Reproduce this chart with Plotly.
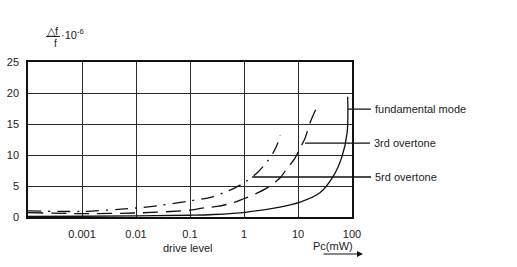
import numpy as np
import plotly.graph_objects as go

# ---- data (Pc in mW, Δf/f in 1e-6) ----
fund_x = [0.0001, 0.001, 0.01, 0.1, 0.27, 1.14, 4.6, 10.9, 25.5, 44.5, 65, 81, 84, 83]
fund_y = [0.1, 0.12, 0.18, 0.28, 0.4, 0.8, 1.6, 2.4, 3.9, 6.5, 9.7, 13.5, 17.5, 19.4]

ot3_x = [0.0001, 0.001, 0.01, 0.1, 0.19, 0.32, 0.63, 0.96, 1.6, 2.67, 4.64, 6.0, 8.8, 10.9, 13.5, 16.7, 21.5]
ot3_y = [0.7, 0.55, 0.65, 1.1, 1.5, 1.7, 2.3, 2.9, 3.7, 4.7, 6.3, 7.6, 9.5, 11.1, 12.7, 15.2, 17.4]

ot5_x = [0.0001, 0.001, 0.01, 0.03, 0.1, 0.25, 0.41, 0.68, 1.04, 1.74, 2.67, 3.44, 4.08, 4.64]
ot5_y = [1.0, 0.9, 1.45, 1.9, 2.6, 3.2, 3.9, 4.7, 5.6, 7.1, 8.9, 10.3, 11.6, 13.2]

x_tickvals = [0.001, 0.01, 0.1, 1, 10, 100]
x_ticktext = ["0.001", "0.01", "0.1", "1", "10", "100"]
y_tickvals = [0, 5, 10, 15, 20, 25]

labels = ["fundamental mode", "3rd overtone", "5rd overtone"]
label_pts = [(84, 17.4), (13.5, 11.9), (1.41, 6.45)]
label_ax = [23, 65, 119]

FONT = "Liberation Sans, Arial, sans-serif"
TXT = "#222222"

fig = go.Figure()
fig.add_trace(go.Scatter(x=fund_x, y=fund_y, mode="lines",
                         line=dict(color="#111", width=1.3, shape="spline", smoothing=1.0)))
fig.add_trace(go.Scatter(x=ot3_x, y=ot3_y, mode="lines",
                         line=dict(color="#111", width=1.3, dash="15px,8px", shape="spline", smoothing=0.8)))
fig.add_trace(go.Scatter(x=ot5_x, y=ot5_y, mode="lines",
                         line=dict(color="#111", width=1.3, dash="13px,7px,2px,7px", shape="spline", smoothing=0.8)))

L, R, T, B = 28, 352, 62, 217
W, H = R - L, B - T


def px(x):
    return (x - L) / W


def py(y):
    return (B - y) / H


fig.update_layout(
    width=517, height=267,
    margin=dict(l=L, r=517 - R, t=T, b=267 - B, pad=0, autoexpand=False),
    paper_bgcolor="white", plot_bgcolor="white",
    showlegend=False,
    font=dict(family=FONT, size=11, color=TXT),
    xaxis=dict(type="log", range=[-4, 2], tickvals=x_tickvals, ticktext=x_ticktext,
               showgrid=True, gridcolor="#2a2a2a", gridwidth=1.3, automargin=False,
               showline=True, linecolor="#111", linewidth=1.5, mirror=True,
               ticks="", zeroline=False, ticklabelstandoff=6,
               tickfont=dict(family=FONT, size=11, color=TXT)),
    yaxis=dict(range=[0, 25], tickvals=y_tickvals, automargin=False,
               showgrid=True, gridcolor="#2a2a2a", gridwidth=1.3,
               showline=True, linecolor="#111", linewidth=1.5, mirror=True,
               ticks="", zeroline=False, ticklabelstandoff=5,
               tickfont=dict(family=FONT, size=11, color=TXT)),
)

# curve labels with leader lines
for text, (lx, ly), ax in zip(labels, label_pts, label_ax):
    fig.add_annotation(x=np.log10(lx), y=ly, xref="x", yref="y", text=text,
                       showarrow=True, arrowhead=0, arrowwidth=1.3, arrowcolor="#111",
                       ax=ax, ay=0, xanchor="left", yanchor="middle", borderpad=3, standoff=0,
                       font=dict(family=FONT, size=11, color=TXT))


def txt(x, y, text, size=11, xanchor="center"):
    fig.add_annotation(x=px(x), y=py(y), xref="paper", yref="paper", text=text,
                       xanchor=xanchor, yanchor="middle", showarrow=False,
                       font=dict(family=FONT, size=size, color=TXT))


# axis texts
txt(188, 248, "drive level")
txt(333, 246, "Pc(mW)")
fig.add_annotation(x=px(363), y=py(254), xref="paper", yref="paper", text="",
                   showarrow=True, arrowhead=2, arrowsize=1, arrowwidth=1.2, arrowcolor="#111",
                   ax=-41, ay=0)

# y-axis title  Δf/f · 10^-6
txt(53, 31, "△f")
fig.add_shape(type="line", xref="paper", yref="paper", x0=px(46), x1=px(60), y0=py(36.5), y1=py(36.5),
              line=dict(color="#222", width=1))
txt(55, 43, "f", size=10)
txt(59, 34, "·10<sup>-6</sup>", xanchor="left")

fig.write_html("out.html")
